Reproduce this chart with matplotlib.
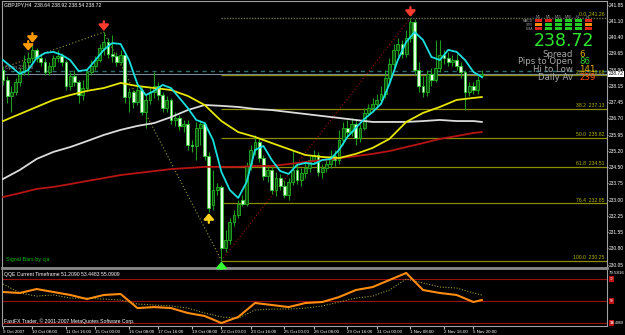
import numpy as np
import matplotlib
matplotlib.use("Agg")
import matplotlib.pyplot as plt
from matplotlib.patches import Rectangle

# GBPJPY H4 candles, bar 0 = 9 Oct 2007
opens = [238.90, 238.45, 237.72, 237.90, 238.35, 238.81, 239.26, 239.44, 239.81, 239.44,
         239.26, 238.81, 239.08, 239.44, 239.53, 239.26, 238.17, 238.63, 238.35, 237.76,
         238.08, 238.81, 239.08, 239.35, 239.90, 240.17, 239.63, 239.53, 239.26, 239.58,
         237.67, 237.90, 237.45, 237.99, 236.99, 237.54, 237.90, 238.17, 237.76, 237.17,
         237.54, 236.63, 236.72, 236.36, 236.45, 235.49, 235.45, 236.27, 236.45, 234.99,
         232.77, 233.45, 233.59, 230.82, 231.18, 232.00, 232.32, 233.00, 232.82, 234.54,
         235.27, 235.63, 234.90, 234.09, 234.36, 233.45, 234.00, 233.63, 233.22, 233.81,
         234.36, 233.90, 234.22, 234.45, 234.81, 235.04, 234.27, 234.45, 234.63, 234.99,
         234.81, 235.72, 236.27, 236.08, 236.45, 235.81, 236.27, 236.95, 237.17, 237.36,
         237.54, 237.81, 238.54, 239.17, 239.81, 240.08, 239.63, 240.35, 241.08, 238.90,
         238.17, 237.90, 238.72, 238.45, 238.99, 239.58, 239.44, 239.26, 239.35, 239.08,
         238.81, 237.90, 238.17, 237.99, 238.64]
highs = [239.08, 238.63, 238.17, 238.54, 238.99, 239.58, 239.72, 240.08, 239.90, 239.58,
         239.44, 239.26, 239.58, 239.81, 239.67, 239.35, 238.81, 238.90, 238.45, 238.45,
         238.99, 239.35, 239.53, 240.08, 240.62, 240.35, 240.49, 239.72, 239.81, 239.72,
         238.08, 237.99, 238.35, 238.17, 237.76, 238.08, 238.81, 238.35, 237.90, 237.72,
         237.63, 236.99, 236.86, 236.63, 236.63, 235.72, 236.54, 236.63, 236.54, 235.18,
         234.36, 233.77, 233.68, 231.64, 232.18, 232.54, 233.00, 233.22, 234.72, 235.49,
         235.95, 235.81, 235.04, 234.59, 234.54, 234.27, 234.18, 233.90, 234.00, 235.27,
         234.68, 234.45, 234.72, 234.99, 235.27, 235.18, 234.63, 234.81, 235.27, 235.27,
         236.18, 236.54, 236.63, 236.72, 236.63, 236.45, 237.17, 237.36, 237.63, 237.81,
         238.17, 238.90, 239.44, 240.08, 240.35, 240.26, 240.72, 241.26, 241.21, 239.26,
         238.63, 238.90, 238.99, 240.26, 240.26, 239.81, 239.72, 239.58, 239.63, 239.26,
         238.90, 238.35, 238.35, 238.63, 238.92]
lows = [238.22, 237.40, 236.99, 237.76, 238.17, 238.67, 238.67, 239.26, 239.26, 239.08,
        238.67, 238.67, 238.90, 239.26, 239.08, 237.99, 237.99, 238.17, 237.40, 237.54,
        237.99, 238.67, 238.90, 239.26, 239.58, 239.44, 239.26, 239.08, 239.17, 237.40,
        236.99, 237.17, 237.31, 236.86, 236.27, 237.36, 237.63, 237.54, 236.99, 236.99,
        236.45, 236.36, 236.18, 236.08, 235.27, 235.18, 234.81, 235.49, 234.81, 232.45,
        232.54, 233.22, 230.25, 230.64, 231.00, 231.82, 232.18, 232.72, 232.72, 234.36,
        235.04, 234.72, 233.90, 233.81, 233.27, 233.18, 233.45, 233.09, 233.00, 233.68,
        233.72, 233.63, 234.00, 234.27, 234.63, 234.09, 234.00, 234.27, 234.45, 234.54,
        234.63, 235.49, 235.90, 235.90, 235.49, 235.63, 236.18, 236.81, 236.99, 237.17,
        237.36, 237.63, 238.35, 238.99, 239.53, 239.44, 239.49, 240.17, 238.72, 237.90,
        237.67, 237.72, 238.17, 238.35, 238.81, 239.17, 239.08, 239.08, 238.90, 238.54,
        237.08, 237.72, 237.81, 237.81, 238.54]
closes = [238.45, 237.72, 237.90, 238.35, 238.81, 239.26, 239.44, 239.81, 239.44, 239.26,
          238.81, 239.08, 239.44, 239.53, 239.26, 238.17, 238.63, 238.35, 237.76, 238.08,
          238.81, 239.08, 239.35, 239.90, 240.17, 239.63, 239.53, 239.26, 239.58, 237.67,
          237.90, 237.45, 237.99, 236.99, 237.54, 237.90, 238.17, 237.76, 237.17, 237.54,
          236.63, 236.72, 236.36, 236.45, 235.49, 235.45, 236.27, 236.45, 234.99, 232.63,
          233.45, 233.59, 230.82, 231.18, 232.00, 232.32, 232.82, 232.82, 234.54, 235.27,
          235.63, 234.90, 234.09, 234.36, 233.45, 234.00, 233.63, 233.22, 233.81, 234.36,
          233.90, 234.22, 234.45, 234.81, 235.04, 234.27, 234.45, 234.63, 234.99, 234.81,
          235.72, 236.27, 236.08, 236.45, 235.81, 236.27, 236.95, 237.17, 237.36, 237.54,
          237.81, 238.54, 239.17, 239.81, 240.08, 239.63, 240.35, 241.08, 238.90, 238.17,
          237.90, 238.72, 238.45, 238.99, 239.58, 239.44, 239.26, 239.35, 239.08, 238.81,
          237.90, 238.17, 237.99, 238.45, 238.72]

# fast MA (cyan), read every 2 bars
fast_bars = list(range(0, 113, 2)) + [114]
fast_ma = [239.35, 239.04, 238.72, 238.90, 239.44, 239.67, 239.72, 239.58, 239.35, 238.85,
           238.90, 239.35, 239.81, 240.12, 240.08, 239.35, 238.26, 237.76, 237.95, 238.22,
           238.08, 237.63, 237.17, 236.63, 236.49, 235.72, 234.27, 233.45, 233.09, 233.81,
           235.27, 235.45, 234.81, 234.31, 234.18, 234.59, 234.68, 234.63, 234.81, 234.86,
           235.27, 235.86, 236.27, 236.67, 236.99, 237.36, 238.26, 239.35, 240.17, 240.62,
           240.26, 239.49, 239.35, 239.81, 239.72, 239.35, 238.81, 238.58]

# slower MAs and QQE, read every 4 bars
slow_bars = list(range(0, 113, 4)) + [114]
yellow_ma = [236.58, 236.90, 237.22, 237.54, 237.76, 237.95, 238.08, 238.31, 238.17, 238.08,
             237.99, 237.72, 237.31, 236.58, 236.08, 235.86, 235.58, 235.31, 235.04, 234.95,
             234.90, 235.09, 235.36, 235.77, 236.54, 236.95, 237.22, 237.54, 237.63, 237.67]
white_ma = [233.95, 234.36, 234.86, 235.18, 235.40, 235.67, 235.95, 236.18, 236.36, 236.49,
            236.76, 237.08, 237.31, 237.27, 237.22, 237.13, 237.08, 236.99, 236.90, 236.81,
            236.72, 236.63, 236.54, 236.54, 236.54, 236.58, 236.63, 236.58, 236.58, 236.54]
red_ma = [233.13, 233.31, 233.50, 233.59, 233.72, 233.86, 233.99, 234.13, 234.22, 234.31,
          234.40, 234.45, 234.50, 234.50, 234.50, 234.54, 234.54, 234.63, 234.72, 234.81,
          234.90, 234.99, 235.09, 235.22, 235.40, 235.58, 235.77, 235.90, 236.04, 236.08]
qqe_fast = [58.2, 57.3, 60.9, 58.2, 55.5, 51.8, 55.5, 56.4, 43.6, 44.5,
            43.6, 39.1, 36.4, 30.0, 35.5, 48.2, 46.4, 44.5, 48.2, 49.1,
            53.6, 60.0, 62.7, 69.1, 75.5, 60.0, 57.3, 55.5, 49.1, 50.9]
qqe_slow = [65.5, 57.3, 54.5, 55.5, 52.7, 52.7, 51.8, 50.9, 47.3, 46.4,
            45.5, 43.6, 39.1, 35.5, 34.5, 41.8, 42.7, 42.7, 43.6, 45.5,
            49.1, 52.7, 54.5, 60.0, 70.0, 66.4, 62.7, 61.8, 57.3, 55.5]
qqe_levels = [70, 50, 30]

# zigzag and fibonacci
zz_bars = [0, 24, 52, 97]
zz_prices = [239.00, 240.62, 230.25, 241.26]
fib_start = 52
fib_levels = [0.0, 23.6, 38.2, 50.0, 61.8, 76.4, 100.0]
fib_prices = [241.26, 238.66, 237.13, 235.82, 234.51, 232.85, 230.25]

# signal bar arrows: (bar, direction, colour)
signals = [(6, "down", "#ff9900"), (7, "down", "#ff9900"), (24, "down", "#ff3b2f"),
           (97, "down", "#ff3b2f"), (49, "up", "#ffd21f"), (52, "up", "#33ff33")]

price_ticks = [241.85, 241.10, 240.40, 239.65, 238.90, 238.15, 237.45, 236.70, 235.95,
               235.20, 234.50, 233.75, 233.00, 232.25, 231.55, 230.80, 230.05]
bid = 238.72
open_line = 238.86
time_bars = [0, 7, 15, 22, 30, 37, 45, 52, 59, 67, 74, 82, 89, 97, 105, 112]
time_labels = ["9 Oct 2007", "10 Oct 08:00", "11 Oct 16:00", "15 Oct 00:00", "16 Oct 08:00",
               "17 Oct 16:00", "19 Oct 08:00", "22 Oct 00:00", "23 Oct 16:00", "25 Oct 00:00",
               "26 Oct 08:00", "29 Oct 16:00", "31 Oct 00:00", "1 Nov 08:00", "2 Nov 16:00",
               "5 Nov 20:00"]

# info panel
tf_names = ["M1", "M5", "M15", "M30", "H1", "H4"]
row_names = ["MACD", "STR", "EMA"]
trend_colors = [["#e0231b", "#e0231b", "#22cc22", "#22cc22", "#22cc22", "#e0231b"],
                ["#ff8c00", "#22cc22", "#22cc22", "#22cc22", "#22cc22", "#ff8c00"],
                ["#e0231b", "#22cc22", "#22cc22", "#22cc22", "#22cc22", "#e0231b"]]
info_names = ["Spread", "Pips to Open", "Hi to Low", "Daily Av"]
info_values = ["6", "86", "141", "239"]
info_colors = ["#e8b000", "#33cc33", "#e8b000", "#ff4a10"]

W, H = 625, 335
plt.rcParams["font.family"] = "DejaVu Sans"
small = "Liberation Sans"  # narrower face for the tiny MT4 labels
fig = plt.figure(figsize=(W / 100, H / 100), dpi=100, facecolor="black")


def px_axes(x0, y0, x1, y1):
    return fig.add_axes([x0 / W, 1 - y1 / H, (x1 - x0) / W, (y1 - y0) / H])


ax = px_axes(2, 1, 607, 268)
sub = px_axes(2, 270, 607, 326)
xlim = (-0.24, 143.8)

# ---- main chart ----
ax.set_facecolor("black")
ax.set_xlim(*xlim)
ax.set_ylim(229.91, 242.03)

o, h, l, c = map(np.array, (opens, highs, lows, closes))
idx = np.arange(len(c))
up = c >= o
ax.vlines(idx, l, h, color="#1c9c1c", lw=0.8, zorder=3)
ax.bar(idx[up], (c - o)[up], bottom=o[up], width=0.65, color="#0d4d0d",
       edgecolor="#22b322", lw=0.6, zorder=4)
ax.bar(idx[~up], (o - c)[~up], bottom=c[~up], width=0.65, color="#e6ffe6",
       edgecolor="#33cc33", lw=0.6, zorder=4)

ax.plot(slow_bars, red_ma, color="#b81414", lw=1.3, zorder=5)
ax.plot(slow_bars, white_ma, color="#dcdcdc", lw=1.3, zorder=5)
ax.plot(slow_bars, yellow_ma, color="#e6e600", lw=1.3, zorder=5)
ax.plot(fast_bars, fast_ma, color="#19e0e0", lw=1.3, zorder=6)

# zigzag
ax.plot(zz_bars[:3], zz_prices[:3], color="#9a9a30", lw=0.8, ls=(0, (1, 2)), zorder=2)
ax.plot(zz_bars[2:], zz_prices[2:], color="#a01010", lw=0.8, ls=(0, (1, 2)), zorder=2)

# fibonacci levels
for lvl, p in zip(fib_levels, fib_prices):
    if lvl == 0.0:
        ax.hlines(p, fib_start, xlim[1], color="#6e6e58", lw=1.0, ls=(0, (1, 1)), zorder=1)
    else:
        ax.hlines(p, fib_start, xlim[1], color="#8c8c00", lw=0.9, zorder=1)
    ax.text(0.996, p + 0.03, f"{lvl:.1f}  {p:.2f}", transform=ax.get_yaxis_transform(),
            ha="right", va="bottom", fontsize=3.7, family=small, color="#b4b400", zorder=7)

ax.axhline(bid, color="#7d8a96", lw=0.8, zorder=1)
ax.axhline(open_line, color="#2e7070", lw=1.0, ls=(0, (3, 3)), zorder=1)
ax.text(0.005, open_line + 0.03, "Open 238.86", transform=ax.get_yaxis_transform(),
        fontsize=3.5, family=small, color="#9a9a9a", va="bottom")

for bar, kind, col in signals:
    if kind == "down":
        ax.annotate("", xy=(bar, h[bar] + 0.05), xytext=(0, 7), textcoords="offset points",
                    arrowprops=dict(arrowstyle="-|>,head_width=0.3,head_length=0.35",
                                    color=col, lw=1.6, shrinkA=0, shrinkB=0), zorder=8)
    else:
        ax.annotate("", xy=(bar, l[bar] - 0.05), xytext=(0, -7), textcoords="offset points",
                    arrowprops=dict(arrowstyle="-|>,head_width=0.3,head_length=0.35",
                                    color=col, lw=1.6, shrinkA=0, shrinkB=0), zorder=8)

ax.set_xticks([])
ax.yaxis.tick_right()
ax.set_yticks(price_ticks)
ax.set_yticklabels([f"{t:.2f}" for t in price_ticks], family=small)
ax.tick_params(axis="y", colors="#bdbdbd", labelcolor="white", labelsize=3.5,
               length=1, pad=0.4)
for side in ["left", "top", "right"]:
    ax.spines[side].set_color("#a0a0a0")
    ax.spines[side].set_linewidth(0.8)
ax.spines["bottom"].set_color("#8a8a8a")
ax.spines["bottom"].set_linewidth(2)

ax.text(1.003, bid, f"{bid:.2f}", transform=ax.get_yaxis_transform(), ha="left",
        va="center", fontsize=3.5, family=small, color="black",
        bbox=dict(boxstyle="square,pad=0.12", fc="white", ec="none"), zorder=9)

ax.text(0.003, 0.994, "GBPJPY,H4  238.64 238.92 238.54 238.72", transform=ax.transAxes,
        ha="left", va="top", fontsize=3.7, family=small, color="white")
ax.text(0.006, 0.024, "Signal Bars by cja", transform=ax.transAxes, ha="left",
        va="bottom", fontsize=3.9, family=small, color="#10c010")


def fx(x):
    return (x - 2) / 605


def fy(y):
    return (268 - y) / 267


# info panel, top right
for j, name in enumerate(tf_names):
    ax.text(fx(538 + 10 * j), fy(16.5), name, transform=ax.transAxes, ha="center",
            va="center", fontsize=2.6, family=small, color="#9a9a9a")
for r, rname in enumerate(row_names):
    yy = [20.7, 24.6, 28.7][r]
    ax.text(fx(533), fy(yy), rname, transform=ax.transAxes, ha="right", va="center",
            fontsize=2.5, family=small, color="#9a9a9a")
    for j in range(6):
        ax.add_patch(Rectangle((fx(534.5 + 10 * j), fy(yy + 1.4)), 7.5 / 605, 2.8 / 267,
                               transform=ax.transAxes, facecolor=trend_colors[r][j],
                               lw=0, zorder=8))
ax.text(fx(564), fy(41), f"{bid:.2f}", transform=ax.transAxes, ha="center", va="center",
        fontsize=12.5, color="#2ee62e", zorder=8)
for k, (nm, val, col) in enumerate(zip(info_names, info_values, info_colors)):
    yy = [54.5, 62, 69.5, 77][k]
    ax.text(fx(573), fy(yy), nm, transform=ax.transAxes, ha="right", va="center",
            fontsize=6.2, color="#a8a8a8", zorder=8)
    ax.text(fx(579), fy(yy), val, transform=ax.transAxes, ha="left", va="center",
            fontsize=6.2, color=col, zorder=8)

# ---- QQE sub window ----
sub.set_facecolor("black")
sub.set_xlim(*xlim)
sub.set_ylim(27.3, 78.2)
for lv in qqe_levels:
    sub.axhline(lv, color="#9a1010", lw=0.8)
sub.plot(slow_bars, qqe_slow, color="#9a9a30", lw=0.8, ls=(0, (1, 1.5)))
sub.plot(slow_bars, qqe_fast, color="#ff8c10", lw=1.5)
sub.set_yticks([])
sub.set_xticks(time_bars)
sub.set_xticklabels(time_labels, ha="left", family=small)
sub.tick_params(axis="x", colors="#bdbdbd", labelcolor="white", labelsize=3.2,
                length=2, pad=0.6)
sub.spines["top"].set_visible(False)
for side in ["left", "right", "bottom"]:
    sub.spines[side].set_color("#a0a0a0")
    sub.spines[side].set_linewidth(0.8)
sub.text(0.004, 0.97, "QQE Current Timeframe 51.2090 53.4483 55.0909",
         transform=sub.transAxes, ha="left", va="top", fontsize=3.7, family=small,
         color="white")
sub.text(0.003, 0.03, "FastFX Trader, \u00a9 2001-2007 MetaQuotes Software Corp.",
         transform=sub.transAxes, ha="left", va="bottom", fontsize=3.7, family=small,
         color="white")
sub.text(1.003, 0.99, "79.5816", transform=sub.transAxes, ha="left", va="top",
         fontsize=3.2, family=small, color="white")
for lv in qqe_levels:
    sub.text(1.004, lv, str(lv), transform=sub.get_yaxis_transform(), ha="left",
             va="center", fontsize=2.3, family=small, color="white",
             bbox=dict(boxstyle="square,pad=0.2", fc="#c01010", ec="none"))
sub.text(1.028, qqe_levels[-1], "16.4068", transform=sub.get_yaxis_transform(),
         ha="right", va="center", fontsize=2.6, family=small, color="white")

fig.savefig("out.png", dpi=100, facecolor="black")
